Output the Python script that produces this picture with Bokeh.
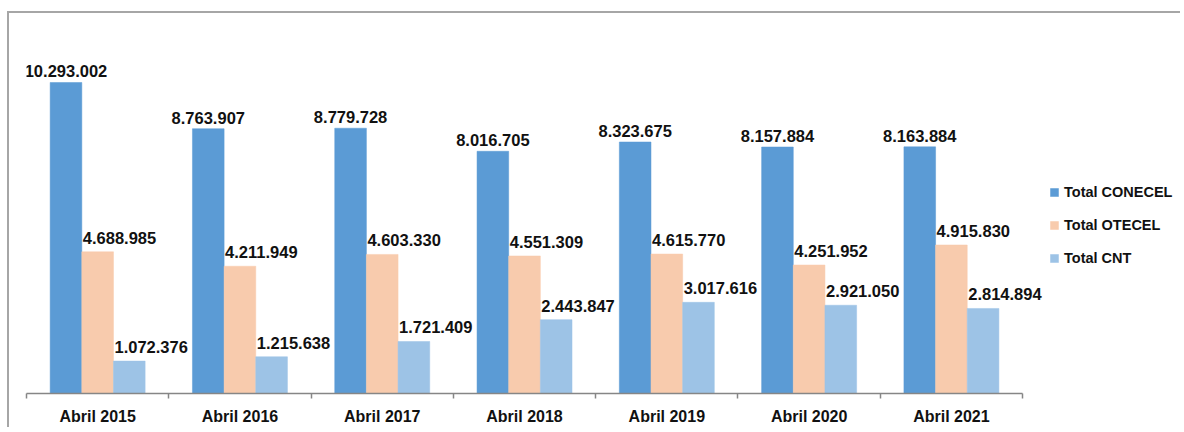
import numpy as np
from bokeh.plotting import figure
from bokeh.models import ColumnDataSource, Range1d, FixedTicker, Legend, LegendItem
from bokeh.core.properties import value
from bokeh.embed import file_html
from bokeh.resources import INLINE

categories = ["Abril 2015", "Abril 2016", "Abril 2017", "Abril 2018", "Abril 2019", "Abril 2020", "Abril 2021"]
conecel = [10293002, 8763907, 8779728, 8016705, 8323675, 8157884, 8163884]
otecel = [4688985, 4211949, 4603330, 4551309, 4615770, 4251952, 4915830]
cnt = [1072376, 1215638, 1721409, 2443847, 3017616, 2921050, 2814894]
series_names = ["Total CONECEL", "Total OTECEL", "Total CNT"]
colors = ["#5B9BD5", "#F8CBAD", "#9DC3E6"]

FONT = "Liberation Sans"

def fmt(v):
    return f"{v:,}".replace(",", ".")

p = figure(width=1173, height=416, output_backend="svg", toolbar_location=None,
           x_range=Range1d(0, 8.124), y_range=Range1d(0, 12.014e6),
           min_border_left=17, min_border_right=0, min_border_top=17, min_border_bottom=36,
           margin=(11, 0, 0, 7),
           styles={"border-top": "2px solid #A6A6A6", "border-left": "2px solid #A6A6A6"})
p.outline_line_color = None
p.grid.visible = False
p.yaxis.visible = False

n = len(categories)
centers = np.arange(n) + 0.5
w = 0.2225
offsets = [-w, 0.0, w]
renderers = []
for k, vals in enumerate([conecel, otecel, cnt]):
    xs = centers + offsets[k]
    src = ColumnDataSource(dict(x=xs, top=vals, left=xs - w / 2,
                                label=[fmt(v) for v in vals]))
    r = p.vbar(x="x", top="top", width=w, source=src, fill_color=colors[k],
               line_color=colors[k], line_width=0.5)
    renderers.append(r)
    if k == 0:
        p.text(x="x", y="top", text="label", source=src, text_align="center",
               text_baseline="bottom", y_offset=-5, text_font=value(FONT),
               text_font_style="bold", text_font_size="16.5px", text_color="#111111")
    else:
        p.text(x="left", y="top", text="label", source=src, text_align="left",
               text_baseline="bottom", x_offset=1, y_offset=-8, text_font=value(FONT),
               text_font_style="bold", text_font_size="16.5px", text_color="#111111")

ax = p.xaxis[0]
ax.ticker = FixedTicker(ticks=list(centers), minor_ticks=list(range(n + 1)))
ax.major_label_overrides = {float(c): cat for c, cat in zip(centers, categories)}
ax.bounds = (0, n)
ax.axis_line_color = "#868686"
ax.axis_line_width = 1.5
ax.major_tick_out = 0
ax.major_tick_in = 0
ax.minor_tick_out = 5
ax.minor_tick_in = 0
ax.minor_tick_line_color = "#868686"
ax.minor_tick_line_width = 1.5
ax.major_label_standoff = 9
ax.major_label_text_font = FONT
ax.major_label_text_font_style = "bold"
ax.major_label_text_font_size = "16px"
ax.major_label_text_color = "#111111"

legend = Legend(items=[LegendItem(label=series_names[i], renderers=[renderers[i]]) for i in range(3)],
                location=(1023, 127))
legend.border_line_color = None
legend.background_fill_alpha = 0
legend.glyph_width = 10
legend.glyph_height = 10
legend.label_text_font = FONT
legend.label_text_font_style = "bold"
legend.label_text_font_size = "14.5px"
legend.label_text_color = "#111111"
legend.label_height = 14
legend.spacing = 17
legend.label_standoff = 5
legend.padding = 5
p.add_layout(legend)

open("out.html", "w").write(file_html(p, INLINE))
